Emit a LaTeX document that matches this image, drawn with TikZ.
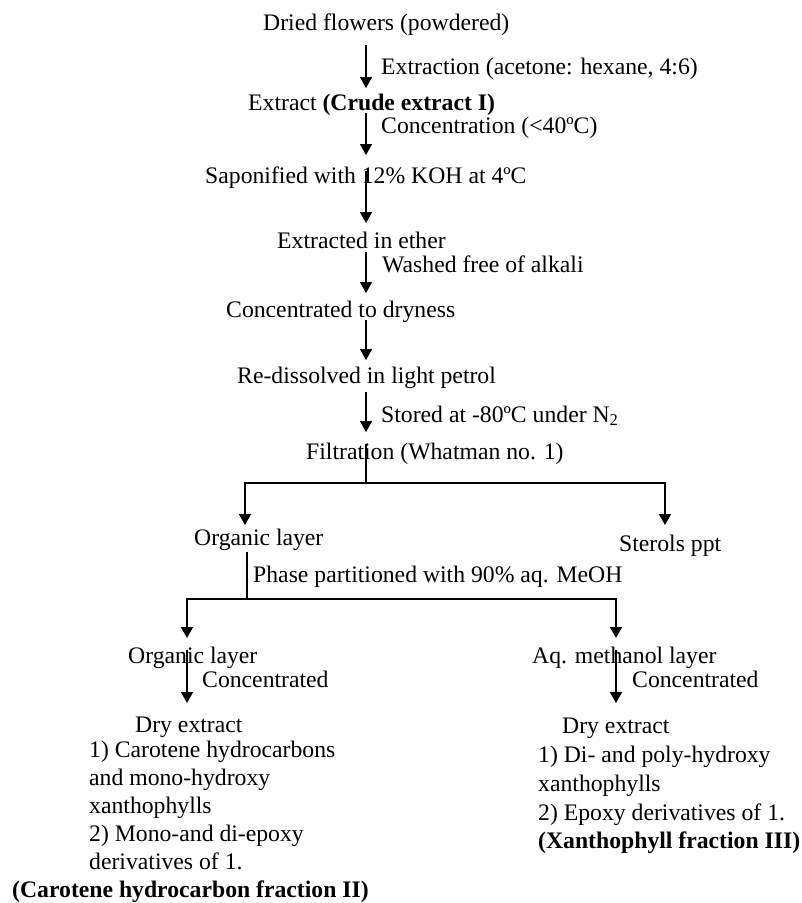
\documentclass[tikz,border=0pt]{standalone}
\usepackage{fontspec}
\setmainfont{Liberation Serif}
\usetikzlibrary{arrows.meta}
\begin{document}
\begin{tikzpicture}[x=1pt,y=-1pt,
  txt/.style={inner sep=0pt,anchor=base west,font=\fontsize{23.7}{28}\selectfont},
  flow/.style={line width=1.6pt,-{Triangle[width=12pt,length=11pt]}},
  plain/.style={line width=1.6pt}]
\useasboundingbox (0,0) rectangle (802,903);
% main column
\node[txt] (n1) at (263,30) {Dried flowers (powdered)};
\node[txt] (l1) at (381,74) {Extraction (acetone: hexane, 4:6)};
\node[txt] (n2) at (248,110) {Extract \textbf{(Crude extract I)}};
\node[txt] (l2) at (381,133) {Concentration (<40ºC)};
\node[txt] (n3) at (205,183) {Saponified with 12\% KOH at 4ºC};
\node[txt] (n4) at (277,248) {Extracted in ether};
\node[txt] (l4) at (382,272) {Washed free of alkali};
\node[txt] (n5) at (226,317) {Concentrated to dryness};
\node[txt] (n6) at (237,383) {Re-dissolved in light petrol};
\node[txt] (l6) at (381,422) {Stored at -80ºC under N\textsubscript{2}};
\node[txt] (n7) at (306,459) {Filtration (Whatman no. 1)};
\node[txt] (n8) at (194,545) {Organic layer};
\node[txt] (n9) at (619,551) {Sterols ppt};
\node[txt] (l8) at (253,582) {Phase partitioned with 90\% aq. MeOH};
\node[txt] (n10) at (128,663) {Organic layer};
\node[txt] (n11) at (532,663) {Aq. methanol layer};
\node[txt] (l10) at (202,687) {Concentrated};
\node[txt] (l11) at (632,687) {Concentrated};
% left result
\node[txt] (d1) at (135,732) {Dry extract};
\node[txt] (d1a) at (89,757) {1) Carotene hydrocarbons};
\node[txt] (d1b) at (89,785) {and mono-hydroxy};
\node[txt] (d1c) at (89,813) {xanthophylls};
\node[txt] (d1d) at (89,841) {2) Mono-and di-epoxy};
\node[txt] (d1e) at (89,869) {derivatives of 1.};
\node[txt] (d1f) at (12,897) {\textbf{(Carotene hydrocarbon fraction II)}};
% right result
\node[txt] (d2) at (562,733) {Dry extract};
\node[txt] (d2a) at (538,762) {1) Di- and poly-hydroxy};
\node[txt] (d2b) at (538,791) {xanthophylls};
\node[txt] (d2c) at (538,820) {2) Epoxy derivatives of 1.};
\node[txt] (d2d) at (538,848) {\textbf{(Xanthophyll fraction III)}};
% connector coordinates
\coordinate (a1s) at (366,45);  \coordinate (a1e) at (366,88);
\coordinate (a2s) at (366,113); \coordinate (a2e) at (366,155);
\coordinate (a3s) at (366,171); \coordinate (a3e) at (366,223);
\coordinate (a4s) at (366,252); \coordinate (a4e) at (366,293);
\coordinate (a5s) at (366,320); \coordinate (a5e) at (366,360);
\coordinate (a6s) at (366,392); \coordinate (a6e) at (366,432);
\coordinate (b1s) at (366,444); \coordinate (b1m) at (366,483);
\coordinate (b1l) at (245,483); \coordinate (b1r) at (665,483);
\coordinate (b1le) at (245,525); \coordinate (b1re) at (665,525);
\coordinate (b2s) at (247,552); \coordinate (b2m) at (247,599);
\coordinate (b2l) at (187,599); \coordinate (b2r) at (616,599);
\coordinate (b2le) at (187,638); \coordinate (b2re) at (616,638);
\coordinate (c1s) at (187,650); \coordinate (c1e) at (187,703);
\coordinate (c2s) at (616,650); \coordinate (c2e) at (616,703);
% connectors
\draw[flow] (a1s) -- (a1e);
\draw[flow] (a2s) -- (a2e);
\draw[flow] (a3s) -- (a3e);
\draw[flow] (a4s) -- (a4e);
\draw[flow] (a5s) -- (a5e);
\draw[flow] (a6s) -- (a6e);
\draw[plain] (b1s) -- (b1m);
\draw[flow] (b1m) -- (b1l) -- (b1le);
\draw[flow] (b1m) -- (b1r) -- (b1re);
\draw[plain] (b2s) -- (b2m);
\draw[flow] (b2m) -- (b2l) -- (b2le);
\draw[flow] (b2m) -- (b2r) -- (b2re);
\draw[flow] (c1s) -- (c1e);
\draw[flow] (c2s) -- (c2e);
\end{tikzpicture}
\end{document}
